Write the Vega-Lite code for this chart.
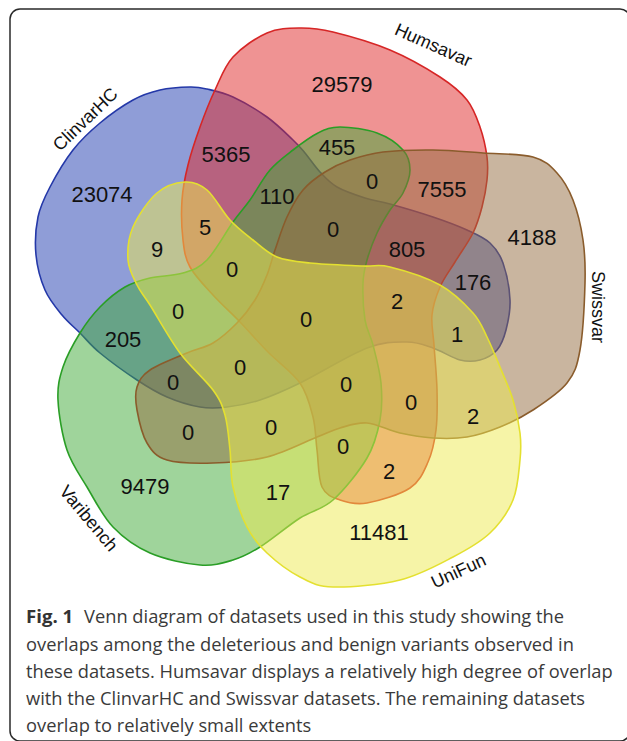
{
  "$schema": "https://vega.github.io/schema/vega-lite/v6.json",
  "width": 627,
  "height": 741,
  "padding": 0,
  "autosize": {"type": "none"},
  "background": "#ffffff",
  "config": {"view": {"stroke": null}},
  "datasets": {
    "clinvar": [
      {"i":0,"x":190,"y":87},{"i":1,"x":207,"y":89},{"i":2,"x":233,"y":97},{"i":3,"x":267,"y":117},{"i":4,"x":293,"y":140},{"i":5,"x":305,"y":153},{"i":6,"x":320,"y":172},{"i":7,"x":337,"y":187},{"i":8,"x":365,"y":198},{"i":9,"x":390,"y":204},{"i":10,"x":433,"y":217},{"i":11,"x":467,"y":230},{"i":12,"x":490,"y":243},{"i":13,"x":503,"y":263},{"i":14,"x":510,"y":300},{"i":15,"x":506,"y":330},{"i":16,"x":497,"y":350},{"i":17,"x":480,"y":360},{"i":18,"x":460,"y":360},{"i":19,"x":433,"y":348},{"i":20,"x":407,"y":342},{"i":21,"x":367,"y":348},{"i":22,"x":300,"y":383},{"i":23,"x":260,"y":400},{"i":24,"x":227,"y":407},{"i":25,"x":200,"y":407},{"i":26,"x":167,"y":397},{"i":27,"x":137,"y":380},{"i":28,"x":100,"y":353},{"i":29,"x":80,"y":333},{"i":30,"x":62,"y":315},{"i":31,"x":45,"y":290},{"i":32,"x":36,"y":255},{"i":33,"x":38,"y":217},{"i":34,"x":50,"y":187},{"i":35,"x":73,"y":150},{"i":36,"x":100,"y":123},{"i":37,"x":133,"y":100},{"i":38,"x":160,"y":90}
    ],
    "humsavar": [
      {"i":0,"x":300,"y":28},{"i":1,"x":333,"y":32},{"i":2,"x":390,"y":50},{"i":3,"x":440,"y":77},{"i":4,"x":467,"y":100},{"i":5,"x":480,"y":127},{"i":6,"x":487,"y":157},{"i":7,"x":487,"y":180},{"i":8,"x":482,"y":207},{"i":9,"x":473,"y":233},{"i":10,"x":455,"y":262},{"i":11,"x":440,"y":287},{"i":12,"x":432,"y":315},{"i":13,"x":434,"y":345},{"i":14,"x":437,"y":390},{"i":15,"x":436,"y":430},{"i":16,"x":428,"y":462},{"i":17,"x":410,"y":488},{"i":18,"x":367,"y":503},{"i":19,"x":340,"y":500},{"i":20,"x":322,"y":487},{"i":21,"x":317,"y":450},{"i":22,"x":313,"y":417},{"i":23,"x":300,"y":383},{"i":24,"x":268,"y":352},{"i":25,"x":240,"y":322},{"i":26,"x":213,"y":295},{"i":27,"x":190,"y":267},{"i":28,"x":183,"y":240},{"i":29,"x":182,"y":200},{"i":30,"x":188,"y":165},{"i":31,"x":200,"y":127},{"i":32,"x":215,"y":90},{"i":33,"x":233,"y":57},{"i":34,"x":267,"y":33}
    ],
    "varibench": [
      {"i":0,"x":340,"y":127},{"i":1,"x":377,"y":133},{"i":2,"x":403,"y":150},{"i":3,"x":410,"y":170},{"i":4,"x":403,"y":193},{"i":5,"x":390,"y":210},{"i":6,"x":377,"y":233},{"i":7,"x":367,"y":260},{"i":8,"x":363,"y":283},{"i":9,"x":365,"y":320},{"i":10,"x":373,"y":345},{"i":11,"x":381,"y":383},{"i":12,"x":380,"y":420},{"i":13,"x":367,"y":458},{"i":14,"x":333,"y":500},{"i":15,"x":300,"y":518},{"i":16,"x":260,"y":547},{"i":17,"x":233,"y":560},{"i":18,"x":200,"y":565},{"i":19,"x":150,"y":553},{"i":20,"x":113,"y":527},{"i":21,"x":87,"y":487},{"i":22,"x":67,"y":450},{"i":23,"x":58,"y":400},{"i":24,"x":63,"y":367},{"i":25,"x":80,"y":333},{"i":26,"x":100,"y":307},{"i":27,"x":125,"y":287},{"i":28,"x":150,"y":278},{"i":29,"x":183,"y":273},{"i":30,"x":207,"y":260},{"i":31,"x":233,"y":222},{"i":32,"x":250,"y":200},{"i":33,"x":270,"y":170},{"i":34,"x":293,"y":150},{"i":35,"x":318,"y":133}
    ],
    "swissvar": [
      {"i":0,"x":150,"y":370},{"i":1,"x":187,"y":353},{"i":2,"x":213,"y":343},{"i":3,"x":237,"y":323},{"i":4,"x":255,"y":300},{"i":5,"x":267,"y":275},{"i":6,"x":275,"y":250},{"i":7,"x":287,"y":217},{"i":8,"x":303,"y":190},{"i":9,"x":325,"y":172},{"i":10,"x":350,"y":160},{"i":11,"x":383,"y":152},{"i":12,"x":433,"y":150},{"i":13,"x":483,"y":153},{"i":14,"x":533,"y":157},{"i":15,"x":557,"y":173},{"i":16,"x":573,"y":200},{"i":17,"x":583,"y":240},{"i":18,"x":585,"y":283},{"i":19,"x":580,"y":350},{"i":20,"x":567,"y":383},{"i":21,"x":533,"y":410},{"i":22,"x":500,"y":427},{"i":23,"x":467,"y":437},{"i":24,"x":433,"y":438},{"i":25,"x":400,"y":433},{"i":26,"x":367,"y":423},{"i":27,"x":340,"y":428},{"i":28,"x":317,"y":437},{"i":29,"x":267,"y":457},{"i":30,"x":213,"y":463},{"i":31,"x":167,"y":460},{"i":32,"x":147,"y":443},{"i":33,"x":137,"y":410},{"i":34,"x":137,"y":387}
    ],
    "unifun": [
      {"i":0,"x":185,"y":182},{"i":1,"x":207,"y":190},{"i":2,"x":230,"y":220},{"i":3,"x":253,"y":240},{"i":4,"x":277,"y":257},{"i":5,"x":310,"y":263},{"i":6,"x":363,"y":266},{"i":7,"x":390,"y":267},{"i":8,"x":440,"y":285},{"i":9,"x":473,"y":313},{"i":10,"x":487,"y":337},{"i":11,"x":500,"y":367},{"i":12,"x":513,"y":400},{"i":13,"x":520,"y":433},{"i":14,"x":520,"y":460},{"i":15,"x":513,"y":500},{"i":16,"x":490,"y":533},{"i":17,"x":453,"y":557},{"i":18,"x":400,"y":580},{"i":19,"x":333,"y":587},{"i":20,"x":300,"y":577},{"i":21,"x":267,"y":553},{"i":22,"x":247,"y":527},{"i":23,"x":233,"y":487},{"i":24,"x":230,"y":450},{"i":25,"x":225,"y":415},{"i":26,"x":213,"y":390},{"i":27,"x":180,"y":353},{"i":28,"x":150,"y":305},{"i":29,"x":137,"y":285},{"i":30,"x":128,"y":260},{"i":31,"x":133,"y":227},{"i":32,"x":157,"y":193}
    ],
    "counts": [
      {"n":"23074","x":102,"y":195},{"n":"5365","x":226,"y":155},{"n":"29579","x":342,"y":85},{"n":"455","x":337,"y":148},{"n":"0","x":372,"y":182},{"n":"7555","x":442,"y":190},{"n":"110","x":277,"y":197},{"n":"5","x":205,"y":228},{"n":"9","x":157,"y":250},{"n":"0","x":333,"y":230},{"n":"805","x":407,"y":250},{"n":"4188","x":532,"y":238},{"n":"176","x":473,"y":283},{"n":"0","x":232,"y":270},{"n":"0","x":178,"y":312},{"n":"0","x":306,"y":320},{"n":"2","x":397,"y":302},{"n":"1","x":457,"y":335},{"n":"205","x":123,"y":340},{"n":"0","x":240,"y":368},{"n":"0","x":173,"y":383},{"n":"0","x":346,"y":385},{"n":"0","x":411,"y":403},{"n":"2","x":473,"y":417},{"n":"0","x":188,"y":433},{"n":"0","x":271,"y":428},{"n":"0","x":343,"y":447},{"n":"2","x":389,"y":472},{"n":"9479","x":145,"y":487},{"n":"17","x":278,"y":493},{"n":"11481","x":379,"y":533}
    ],
    "labClinvar": [{"t":"ClinvarHC","x":86,"y":120}],
    "labHumsavar": [{"t":"Humsavar","x":433,"y":46}],
    "labSwissvar": [{"t":"Swissvar","x":597,"y":307}],
    "labUnifun": [{"t":"UniFun","x":459,"y":572}],
    "labVaribench": [{"t":"Varibench","x":88,"y":519}],
    "capBold": [{"t":"Fig. 1","x":26,"y":623}],
    "capText": [
      {"t":"Venn diagram of datasets used in this study showing the","x":84,"y":623},
      {"t":"overlaps among the deleterious and benign variants observed in","x":26,"y":650.5},
      {"t":"these datasets. Humsavar displays a relatively high degree of overlap","x":26,"y":678},
      {"t":"with the ClinvarHC and Swissvar datasets. The remaining datasets","x":26,"y":705},
      {"t":"overlap to relatively small extents","x":26,"y":732}
    ],
    "frame": [{"x":10,"x2":630,"y":9,"y2":741}]
  },
  "encoding": {
    "x": {"field": "x", "type": "quantitative", "scale": {"domain": [0, 627], "nice": false, "zero": false}, "axis": null},
    "y": {"field": "y", "type": "quantitative", "scale": {"domain": [0, 741], "nice": false, "zero": false, "reverse": true}, "axis": null}
  },
  "layer": [
    {
      "data": {"name": "clinvar"},
      "mark": {"type": "line", "interpolate": "cardinal-closed", "fill": "#1f3cb0", "fillOpacity": 0.5, "stroke": "#2438a8", "strokeWidth": 1.6},
      "encoding": {"order": {"field": "i", "type": "quantitative"}}
    },
    {
      "data": {"name": "humsavar"},
      "mark": {"type": "line", "interpolate": "cardinal-closed", "fill": "#e02828", "fillOpacity": 0.5, "stroke": "#d62626", "strokeWidth": 1.6},
      "encoding": {"order": {"field": "i", "type": "quantitative"}}
    },
    {
      "data": {"name": "varibench"},
      "mark": {"type": "line", "interpolate": "cardinal-closed", "fill": "#40aa38", "fillOpacity": 0.5, "stroke": "#2a9e26", "strokeWidth": 1.6},
      "encoding": {"order": {"field": "i", "type": "quantitative"}}
    },
    {
      "data": {"name": "swissvar"},
      "mark": {"type": "line", "interpolate": "cardinal-closed", "fill": "#946c40", "fillOpacity": 0.5, "stroke": "#8a5c2c", "strokeWidth": 1.6},
      "encoding": {"order": {"field": "i", "type": "quantitative"}}
    },
    {
      "data": {"name": "unifun"},
      "mark": {"type": "line", "interpolate": "cardinal-closed", "fill": "#eeea50", "fillOpacity": 0.5, "stroke": "#e4e030", "strokeWidth": 1.6},
      "encoding": {"order": {"field": "i", "type": "quantitative"}}
    },
    {
      "data": {"name": "counts"},
      "mark": {"type": "text", "font": "Liberation Sans", "fontSize": 22, "fill": "#111111", "baseline": "middle", "align": "center"},
      "encoding": {"text": {"field": "n", "type": "nominal"}}
    },
    {
      "data": {"name": "labClinvar"},
      "mark": {"type": "text", "angle": 316, "font": "Liberation Sans", "fontSize": 18, "fill": "#111111", "baseline": "middle", "align": "center"},
      "encoding": {"text": {"field": "t", "type": "nominal"}}
    },
    {
      "data": {"name": "labHumsavar"},
      "mark": {"type": "text", "angle": 24, "font": "Liberation Sans", "fontSize": 18, "fill": "#111111", "baseline": "middle", "align": "center"},
      "encoding": {"text": {"field": "t", "type": "nominal"}}
    },
    {
      "data": {"name": "labSwissvar"},
      "mark": {"type": "text", "angle": 90, "font": "Liberation Sans", "fontSize": 18, "fill": "#111111", "baseline": "middle", "align": "center"},
      "encoding": {"text": {"field": "t", "type": "nominal"}}
    },
    {
      "data": {"name": "labUnifun"},
      "mark": {"type": "text", "angle": 335, "font": "Liberation Sans", "fontSize": 18, "fill": "#111111", "baseline": "middle", "align": "center"},
      "encoding": {"text": {"field": "t", "type": "nominal"}}
    },
    {
      "data": {"name": "labVaribench"},
      "mark": {"type": "text", "angle": 50, "font": "Liberation Sans", "fontSize": 18, "fill": "#111111", "baseline": "middle", "align": "center"},
      "encoding": {"text": {"field": "t", "type": "nominal"}}
    },
    {
      "data": {"name": "capBold"},
      "mark": {"type": "text", "font": "Open Sans", "fontWeight": "bold", "fontSize": 18.6, "fill": "#333333", "baseline": "alphabetic", "align": "left"},
      "encoding": {"text": {"field": "t", "type": "nominal"}}
    },
    {
      "data": {"name": "capText"},
      "mark": {"type": "text", "font": "Open Sans", "fontSize": 18.3, "fill": "#3a3a3a", "baseline": "alphabetic", "align": "left"},
      "encoding": {"text": {"field": "t", "type": "nominal"}}
    },
    {
      "data": {"name": "frame"},
      "mark": {"type": "rect", "filled": false, "stroke": "#2a2a2a", "strokeWidth": 1.5, "cornerRadius": 10},
      "encoding": {"x2": {"field": "x2"}, "y2": {"field": "y2"}}
    }
  ]
}
